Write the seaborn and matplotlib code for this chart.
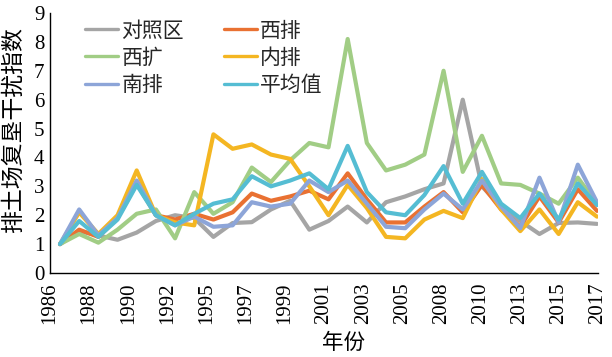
import numpy as np
import pandas as pd
import matplotlib
matplotlib.use("Agg")
import matplotlib.pyplot as plt
import seaborn as sns

years = [1986, 1987, 1988, 1989, 1990, 1991, 1992, 1993, 1995, 1996, 1997,
         1998, 1999, 2000, 2001, 2002, 2003, 2004, 2005, 2006, 2008, 2009,
         2010, 2011, 2013, 2014, 2015, 2016, 2017]
tick_labels = ["1986", "1988", "1990", "1992", "1995", "1997", "1999", "2001",
               "2003", "2005", "2008", "2010", "2013", "2015", "2017"]

series_names = ["对照区", "西排", "西扩", "内排", "南排", "平均值"]
control = [1.0, 1.45, 1.3, 1.15, 1.4, 1.8, 2.0, 1.9, 1.25, 1.73, 1.76, 2.2,
           2.5, 1.5, 1.8, 2.3, 1.75, 2.45, 2.65, 2.9, 3.1, 6.0, 3.0, 2.3,
           1.8, 1.35, 1.73, 1.75, 1.7]
west_dump = [1.0, 1.5, 1.25, 1.9, 3.1, 2.0, 1.85, 2.05, 1.85, 2.1, 2.75, 2.5,
             2.65, 2.85, 2.55, 3.45, 2.55, 1.75, 1.75, 2.3, 2.8, 2.1, 3.05,
             2.2, 1.6, 2.65, 1.75, 2.9, 2.15]
west_ext = [1.0, 1.35, 1.05, 1.5, 2.05, 2.2, 1.2, 2.8, 2.05, 2.45, 3.65, 3.15,
            3.9, 4.5, 4.35, 8.1, 4.5, 3.55, 3.75, 4.1, 7.0, 3.5, 4.75, 3.1,
            3.05, 2.75, 2.4, 3.3, 2.4]
inner_dump = [1.0, 2.1, 1.35, 2.0, 3.55, 2.0, 1.75, 1.65, 4.8, 4.3, 4.45, 4.1,
              3.95, 3.0, 2.0, 3.05, 2.25, 1.25, 1.2, 1.85, 2.15, 1.9, 3.25,
              2.2, 1.45, 2.2, 1.35, 2.45, 1.95]
south_dump = [1.0, 2.2, 1.3, 1.9, 3.2, 2.0, 1.65, 1.95, 1.6, 1.65, 2.45, 2.3,
              2.4, 3.2, 2.8, 3.2, 2.4, 1.6, 1.55, 2.2, 2.75, 2.2, 3.2, 2.3,
              1.55, 3.3, 1.75, 3.75, 2.45]
average = [1.0, 1.8, 1.25, 1.85, 3.05, 2.0, 1.65, 2.05, 2.4, 2.55, 3.35, 3.0,
           3.2, 3.45, 2.9, 4.4, 2.8, 2.1, 2.0, 2.7, 3.7, 2.4, 3.5, 2.4, 1.9,
           2.75, 1.85, 3.1, 2.35]
colors = ["#A5A5A5", "#E97132", "#A1CD85", "#F4B622", "#8DA5D8", "#55BDD3"]

values = [control, west_dump, west_ext, inner_dump, south_dump, average]
rows = []
for name, vals in zip(series_names, values):
    for i, (yr, v) in enumerate(zip(years, vals)):
        rows.append({"idx": i, "year": yr, "series": name, "value": v})
df = pd.DataFrame(rows)

sns.set_theme(style="white")
plt.rcParams["font.family"] = ["Liberation Serif", "Noto Sans CJK SC", "DejaVu Sans"]
cjk = ["Noto Sans CJK SC", "DejaVu Sans"]

fig = plt.figure(figsize=(6.12, 3.57), dpi=100)
ax = fig.add_axes([50 / 612, (357 - 273) / 357, 548 / 612, 260 / 357])

sns.lineplot(data=df, x="idx", y="value", hue="series", hue_order=series_names,
             palette=colors, linewidth=3.0, ax=ax, legend=True, sort=True)

n = len(years)
xmin = -10 / (537 / (n - 1))
xmax = (n - 1) + 1 / (537 / (n - 1))
ax.set_xlim(xmin, xmax)
ax.set_ylim(0, 9)
ax.set_yticks(range(0, 10))
ax.set_xticks(np.linspace(xmin, xmax, len(tick_labels)))
ax.set_xticklabels(tick_labels, rotation=90)
ax.tick_params(axis="both", direction="in", length=4, width=1, color="black",
               labelsize=15, labelcolor="black")
ax.tick_params(axis="x", pad=7)
ax.tick_params(axis="y", pad=4)
for s in ["top", "right"]:
    ax.spines[s].set_visible(False)
for s in ["left", "bottom"]:
    ax.spines[s].set_color("black")
    ax.spines[s].set_linewidth(1.0)

ax.set_xlabel("年份", family=cjk, fontsize=15.5, color="black")
ax.xaxis.set_label_coords(0.535, -0.225)
ax.set_ylabel("排土场复垦干扰指数", family=cjk, fontsize=16.5, color="black")
ax.yaxis.set_label_coords(-0.045, 0.55)

handles, labels = ax.get_legend_handles_labels()
hmap = dict(zip(labels, handles))
order = ["对照区", "西扩", "南排", "西排", "内排", "平均值"]
leg = ax.legend([hmap[k] for k in order], order, ncol=2, loc="upper left",
                bbox_to_anchor=(0.064, 0.975), frameon=False, borderpad=0,
                borderaxespad=0, handlelength=1.6, handletextpad=0.15,
                columnspacing=1.9, labelspacing=0.25,
                prop={"family": cjk, "size": 15})
for line in leg.get_lines():
    line.set_linewidth(2.4)

fig.savefig("out.png", dpi=100)
